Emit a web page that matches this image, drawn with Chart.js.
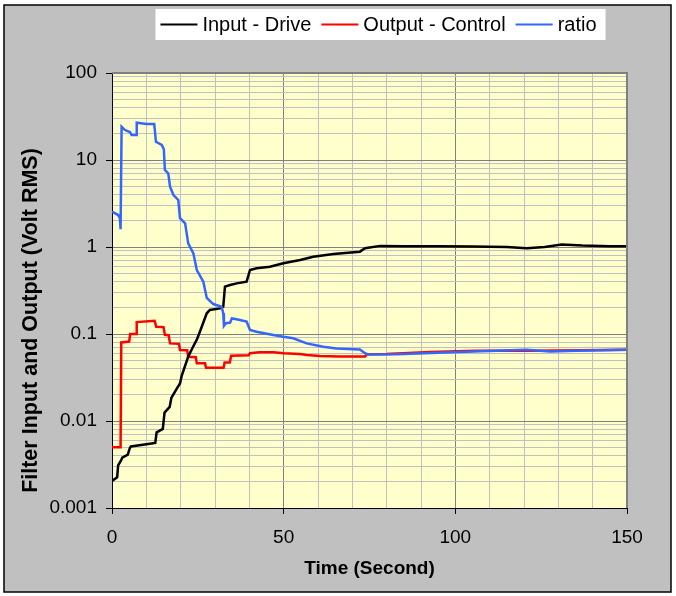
<!DOCTYPE html>
<html>
<head>
<meta charset="utf-8">
<script src="https://cdn.jsdelivr.net/npm/chart.js@4/dist/chart.umd.min.js"></script>
<style>
  html, body { margin: 0; padding: 0; background: #ffffff; }
  canvas { display: block; }
</style>
</head>
<body>
<canvas id="chart" width="676" height="596"></canvas>
<script>
// Filter drive / control levels over time (log scale, volts RMS)
const seriesNames = ['Input - Drive', 'Output - Control', 'ratio'];
const seriesColors = ['#000000', '#ff0000', '#3366ff'];

const inputTime = [0, 1.5, 1.8, 2.6, 3.0, 4.6, 5.2, 5.5, 10, 12.6, 13.0, 14.8, 15.3, 16.8, 17.3, 19.0, 19.8, 20.3,
  22.2, 23.5, 24.7, 25.6, 27.6, 28.5, 31.5, 32.4, 32.9, 34.4, 36.3, 39.2, 40.2, 42.1, 46.0, 49.9, 54.8, 58.6,
  64.5, 72.2, 73.7, 78.1, 85, 95, 105, 115, 120.8, 126, 131, 137, 145, 150];
const inputVolts = [0.00204, 0.00225, 0.0031, 0.0035, 0.0038, 0.0041, 0.0049, 0.0051, 0.0054, 0.0056, 0.0074, 0.0081,
  0.0125, 0.0145, 0.0185, 0.024, 0.027, 0.033, 0.055, 0.07, 0.086, 0.106, 0.173, 0.189, 0.197, 0.206, 0.35, 0.366,
  0.382, 0.399, 0.544, 0.569, 0.594, 0.65, 0.709, 0.774, 0.831, 0.884, 0.966, 1.03, 1.02, 1.02, 1.01, 1.0, 0.97,
  1.0, 1.07, 1.04, 1.02, 1.02];

const outputTime = [0, 2.5, 2.7, 5.0, 5.3, 7.0, 7.2, 12.4, 12.9, 15.0, 15.4, 16.5, 16.9, 19.5, 19.8, 21.9, 22.2,
  24.4, 24.7, 27.1, 27.4, 32.5, 32.8, 34.3, 34.7, 39.8, 40.2, 43, 47, 50, 54.8, 56.7, 60.6, 66.4, 73.7, 74.2, 80,
  92.6, 106, 123.7, 129.5, 150];
const outputVolts = [0.005, 0.005, 0.08, 0.082, 0.1, 0.1, 0.137, 0.142, 0.121, 0.12, 0.098, 0.097, 0.078, 0.077,
  0.0655, 0.065, 0.0548, 0.054, 0.046, 0.046, 0.041, 0.041, 0.047, 0.047, 0.0564, 0.057, 0.06, 0.0616, 0.0616, 0.06,
  0.0588, 0.0574, 0.0557, 0.0551, 0.055, 0.0585, 0.0588, 0.062, 0.064, 0.064, 0.0645, 0.0657];

const ratioTime = [0, 1.8, 2.3, 2.5, 2.8, 3.8, 5.2, 5.7, 7.0, 7.2, 10.1, 12.3, 12.8, 14.5, 15.1, 15.4, 16.4, 16.9,
  17.9, 19.3, 19.8, 21.3, 22.2, 23.7, 24.7, 26.6, 27.6, 29.5, 31.9, 32.4, 32.6, 33.2, 34.4, 34.9, 36.3, 39.2, 40.2,
  42.1, 47, 49.9, 52.8, 56.7, 61.5, 65.4, 72.2, 73.7, 74.7, 82.9, 95, 105.2, 120.8, 127.6, 135, 150];
const ratioValues = [2.55, 2.33, 2.14, 1.6, 24.1, 22.1, 21, 19.4, 19.4, 26.8, 25.9, 25.9, 16.2, 14.9, 13.3, 7.68,
  7.0, 4.93, 3.96, 3.47, 2.14, 1.87, 1.10, 0.846, 0.544, 0.399, 0.26, 0.221, 0.206, 0.173, 0.124, 0.133, 0.135,
  0.151, 0.148, 0.139, 0.111, 0.106, 0.0975, 0.093, 0.0893, 0.078, 0.0715, 0.068, 0.0665, 0.0601, 0.058, 0.0585,
  0.061, 0.0629, 0.0657, 0.063, 0.064, 0.0657];

const xLabelTicks = [0, 50, 100, 150];
const yDecades = [0.001, 0.01, 0.1, 1, 10, 100];
const yTickLabels = ['0.001', '0.01', '0.1', '1', '10', '100'];
const yAxisTitle = 'Filter Input and Output (Volt RMS)';

const FONT = "'Liberation Sans', Arial, sans-serif";

function toPoints(xs, ys) {
  return xs.map((x, i) => ({ x: x, y: ys[i] }));
}

function isDecade(v) {
  return yDecades.some(d => Math.abs(v / d - 1) < 1e-6);
}

// decade lines plus the 2..9 subdivisions inside each decade
const yGridValues = [];
yDecades.forEach((d, i) => {
  yGridValues.push(d);
  if (i < yDecades.length - 1) {
    for (let m = 2; m <= 9; m++) yGridValues.push(+(d * m).toPrecision(6));
  }
});

const framePlugin = {
  id: 'frame',
  beforeDraw(chart) {
    const { ctx, width, height, chartArea: a } = chart;
    ctx.save();
    ctx.fillStyle = '#ffffff';
    ctx.fillRect(0, 0, width, height);
    ctx.fillStyle = '#c0c0c0';
    ctx.fillRect(4, 5, width - 9, height - 9);
    ctx.strokeStyle = '#000000';
    ctx.lineWidth = 1.5;
    ctx.strokeRect(4, 5, width - 9, height - 9);
    ctx.fillStyle = '#ffffcc';
    ctx.fillRect(a.left, a.top, a.right - a.left, a.bottom - a.top);
    ctx.restore();
  },
  afterDraw(chart) {
    const { ctx, chartArea: a } = chart;
    ctx.save();
    ctx.strokeStyle = '#808080';
    ctx.lineWidth = 2;
    ctx.beginPath();
    ctx.moveTo(a.left, a.top);
    ctx.lineTo(a.right, a.top);
    ctx.lineTo(a.right, a.bottom);
    ctx.stroke();

    // vertical axis title, set a little below the plot centre
    ctx.save();
    ctx.translate(31, (a.top + a.bottom) / 2 + 30);
    ctx.rotate(-Math.PI / 2);
    ctx.font = 'bold 21.5px ' + FONT;
    ctx.fillStyle = '#000000';
    ctx.textAlign = 'center';
    ctx.textBaseline = 'middle';
    ctx.fillText(yAxisTitle, 0, 0);
    ctx.restore();

    // legend box
    ctx.font = '20px ' + FONT;
    const sample = 37, gapText = 5, gapItem = 10, padL = 5, padR = 9;
    const items = chart.data.datasets.map(ds => ({ label: ds.label, color: ds.borderColor, w: ctx.measureText(ds.label).width }));
    let total = padL + padR;
    items.forEach((it, i) => { total += sample + gapText + it.w + (i < items.length - 1 ? gapItem : 0); });
    const cx = 380.5, top = 9, boxH = 31;
    let x = cx - total / 2;
    ctx.fillStyle = '#ffffff';
    ctx.fillRect(x, top, total, boxH);
    const midY = top + boxH / 2;
    x += padL;
    items.forEach(it => {
      ctx.strokeStyle = it.color;
      ctx.lineWidth = 2;
      ctx.beginPath();
      ctx.moveTo(x, midY);
      ctx.lineTo(x + sample, midY);
      ctx.stroke();
      x += sample + gapText;
      ctx.fillStyle = '#000000';
      ctx.textBaseline = 'middle';
      ctx.textAlign = 'left';
      ctx.fillText(it.label, x, midY + 1);
      x += it.w + gapItem;
    });
    ctx.restore();
  }
};

const lineStyle = { borderWidth: 2.5, pointRadius: 0, tension: 0, fill: false };

new Chart(document.getElementById('chart'), {
  type: 'line',
  data: {
    datasets: [
      Object.assign({ label: seriesNames[0], data: toPoints(inputTime, inputVolts), borderColor: seriesColors[0], backgroundColor: seriesColors[0], order: 1 }, lineStyle),
      Object.assign({ label: seriesNames[1], data: toPoints(outputTime, outputVolts), borderColor: seriesColors[1], backgroundColor: seriesColors[1], order: 2 }, lineStyle),
      Object.assign({ label: seriesNames[2], data: toPoints(ratioTime, ratioValues), borderColor: seriesColors[2], backgroundColor: seriesColors[2], order: 0 }, lineStyle)
    ]
  },
  options: {
    responsive: false,
    animation: false,
    devicePixelRatio: 1,
    layout: { padding: { top: 73, right: 49, bottom: 0, left: 0 } },
    plugins: {
      legend: { display: false },
      tooltip: { enabled: false }
    },
    scales: {
      x: {
        type: 'linear',
        min: 0,
        max: 150,
        afterFit(scale) { scale.height = 88; },
        border: { display: true, color: '#000000', width: 1 },
        grid: {
          color: ctx => (ctx.tick && ctx.tick.value % 50 === 0) ? '#808080' : '#c0c0c0',
          tickColor: ctx => (ctx.tick && xLabelTicks.includes(ctx.tick.value)) ? '#000000' : 'rgba(0,0,0,0)',
          tickLength: 6,
          lineWidth: 1
        },
        ticks: {
          stepSize: 10,
          autoSkip: false,
          maxRotation: 0,
          padding: 12,
          color: '#000000',
          font: { family: FONT, size: 19 },
          callback: v => xLabelTicks.includes(v) ? String(v) : ''
        },
        title: {
          display: true,
          text: 'Time (Second)',
          color: '#000000',
          font: { family: FONT, size: 19, weight: 'bold' },
          padding: { top: 0, bottom: 16 }
        }
      },
      y: {
        type: 'logarithmic',
        min: 0.001,
        max: 100,
        afterFit(scale) { scale.width = 112; },
        afterBuildTicks(scale) { scale.ticks = yGridValues.map(v => ({ value: v })); },
        border: { display: true, color: '#000000', width: 1 },
        grid: {
          color: ctx => (ctx.tick && isDecade(ctx.tick.value)) ? '#808080' : '#c0c0c0',
          tickColor: ctx => (ctx.tick && isDecade(ctx.tick.value)) ? '#000000' : 'rgba(0,0,0,0)',
          tickLength: 6,
          lineWidth: 1
        },
        ticks: {
          autoSkip: false,
          padding: 9,
          color: '#000000',
          font: { family: FONT, size: 19 },
          callback: v => {
            const i = yDecades.findIndex(d => Math.abs(v / d - 1) < 1e-6);
            return i >= 0 ? yTickLabels[i] : '';
          }
        },
        title: { display: false }
      }
    }
  },
  plugins: [framePlugin]
});
</script>
</body>
</html>
